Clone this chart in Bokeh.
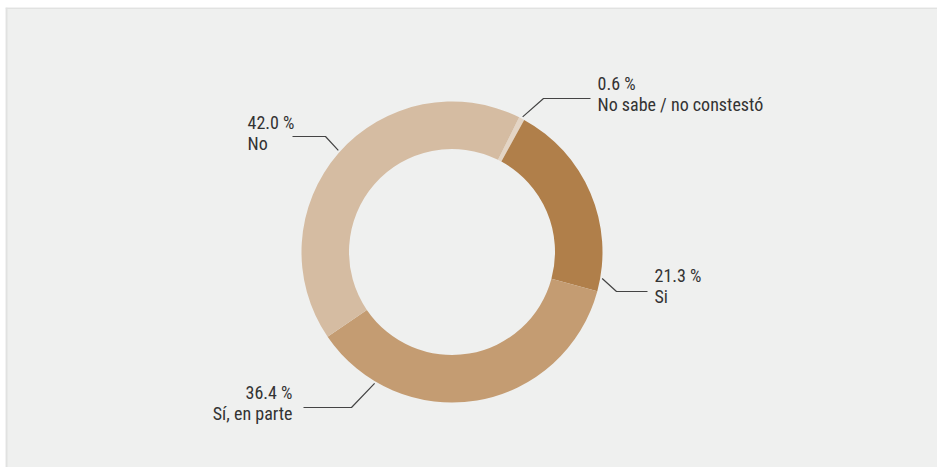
import math
from bokeh.plotting import figure
from bokeh.models import Range1d, Span, ColumnDataSource
from bokeh.core.properties import value
from bokeh.embed import file_html
from bokeh.resources import INLINE

# ---- data ----
categories = ["No sabe / no constestó", "Si", "Sí, en parte", "No"]
shares = [0.6, 21.3, 36.4, 42.0]
pct_labels = ["0.6 %", "21.3 %", "36.4 %", "42.0 %"]
colors = ["#e4d5c5", "#b07f4a", "#c49c72", "#d5bca2"]

# ---- layout ----
W, H = 937, 467
FL, FT = 5, 7  # frame offset (white strip left/top as in reference)
def Y(sy):
    return H - sy

CX, CY = 451.5, Y(251.5)
R_OUT, R_IN = 150.5, 103.0
START_DEG = 26.5  # clockwise from 12 o'clock
FONT = "'Roboto Condensed', 'DejaVu Sans Condensed', sans-serif"
FSIZE = "18px"
TXT = "#333333"
LINE = "#444444"
ANCHOR_R = 152.5

# per label: anchor angle (deg clockwise from top), elbow (screen), line end x, text x, align, first baseline
label_layout = {
    "No sabe / no constestó": dict(ang=27.6, elbow=(543, 98), end_x=590, tx=597, align="left", base=83.3),
    "Si": dict(ang=100.0, elbow=(616, 291), end_x=647, tx=654, align="left", base=275.0),
    "Sí, en parte": dict(ang=210.5, elbow=(351, 407), end_x=303, tx=292, align="right", base=391.7),
    "No": dict(ang=311.8, elbow=(325, 136), end_x=292, tx=247, align="left", base=121.7),
}
LINE_GAP = 21

p = figure(width=W, height=H, output_backend="svg", toolbar_location=None,
           x_range=Range1d(FL, W), y_range=Range1d(0, H - FT),
           min_border=0, min_border_left=FL, min_border_top=FT)
p.xaxis.visible = False
p.yaxis.visible = False
p.grid.visible = False
p.background_fill_color = "#eff0ef"
p.border_fill_color = "white"
p.outline_line_color = None

p.add_layout(Span(location=FL + 1, dimension="height", line_color="#e1e2e1", line_width=2))
p.add_layout(Span(location=Y(FT + 0.75), dimension="width", line_color="#e1e2e1", line_width=1.5))

total = sum(shares)
starts, ends = [], []
acc = START_DEG
for s in shares:
    t0 = acc
    t1 = acc + s / total * 360.0
    starts.append(math.pi / 2 - math.radians(t0))
    ends.append(math.pi / 2 - math.radians(t1))
    acc = t1

src = ColumnDataSource(dict(x=[CX] * len(shares), y=[CY] * len(shares),
                            start=starts, end=ends, color=colors))
p.annular_wedge(x="x", y="y", inner_radius=R_IN, outer_radius=R_OUT,
                start_angle="start", end_angle="end", direction="clock",
                fill_color="color", line_color=None, source=src)

for cat, pct in zip(categories, pct_labels):
    L = label_layout[cat]
    a = math.radians(L["ang"])
    ax = CX + ANCHOR_R * math.sin(a)
    ay = CY + ANCHOR_R * math.cos(a)
    ex, ey = L["elbow"]
    p.line([ax, ex, L["end_x"]], [ay, Y(ey), Y(ey)], line_color=LINE, line_width=1.2)
    p.text(x=[L["tx"], L["tx"]], y=[Y(L["base"]), Y(L["base"] + LINE_GAP)], text=[pct, cat],
           text_font=value(FONT), text_font_size=FSIZE, text_color=TXT,
           text_align=L["align"], text_baseline="alphabetic")

open("out.html", "w").write(file_html(p, INLINE))
